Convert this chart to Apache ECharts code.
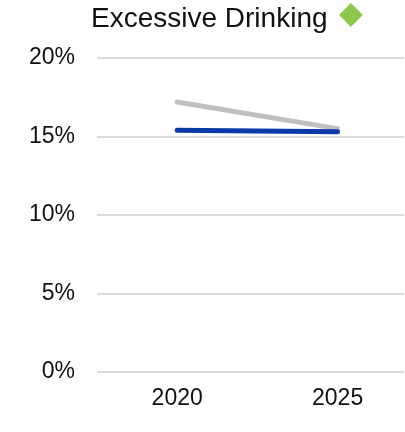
<!DOCTYPE html>
<html>
<head>
<meta charset="utf-8">
<script src="https://cdn.jsdelivr.net/npm/echarts@6/dist/echarts.min.js"></script>
<style>html,body{margin:0;padding:0;background:#fff;}#c{width:405px;height:432px;}</style>
</head>
<body>
<div id="c"></div>
<script>
var years = [2020, 2025];
var yTicks = [0, 5, 10, 15, 20];
var benchmark = [17.2, 15.5];
var local = [15.4, 15.3];
var titleText = 'Excessive Drinking';

var chart = echarts.init(document.getElementById('c'), null, {renderer: 'canvas'});
chart.setOption({
  animation: false,
  title: {
    text: titleText,
    left: 86,
    top: -2,
    textStyle: {fontFamily: 'Liberation Sans', fontSize: 28, fontWeight: 'normal', color: '#111', lineHeight: 32}
  },
  graphic: [{
    type: 'text',
    x: 339,
    y: 15,
    style: {text: '◆', fontFamily: 'DejaVu Sans', fontSize: 31, fill: '#8cc84b', verticalAlign: 'middle', align: 'left'}
  }],
  grid: {left: 97, right: 1, top: 58, bottom: 60},
  xAxis: {
    type: 'value',
    min: 2017.5,
    max: 2027.07,
    axisLine: {show: false},
    axisTick: {show: false},
    splitLine: {show: false},
    axisLabel: {
      customValues: years,
      margin: 15,
      fontFamily: 'Liberation Sans',
      fontSize: 23,
      color: '#111',
      formatter: function (v) { return String(v); }
    }
  },
  yAxis: {
    type: 'value',
    min: yTicks[0],
    max: yTicks[yTicks.length - 1],
    interval: 5,
    axisLine: {show: false},
    axisTick: {show: false},
    splitLine: {lineStyle: {color: '#dcdcdc', width: 2}},
    axisLabel: {
      margin: 22,
      fontFamily: 'Liberation Sans',
      fontSize: 23,
      color: '#111',
      formatter: '{value}%'
    }
  },
  series: [
    {
      type: 'line',
      data: years.map(function (y, i) { return [y, benchmark[i]]; }),
      symbol: 'none',
      lineStyle: {color: '#c0c0c0', width: 5, cap: 'round'},
      z: 2
    },
    {
      type: 'line',
      data: years.map(function (y, i) { return [y, local[i]]; }),
      symbol: 'none',
      lineStyle: {color: '#0a3aa8', width: 5, cap: 'round'},
      z: 3
    }
  ]
});
</script>
</body>
</html>
